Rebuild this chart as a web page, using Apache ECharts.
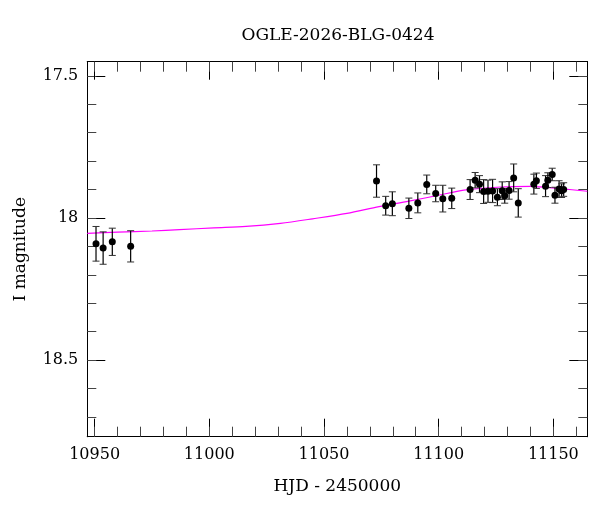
<!DOCTYPE html>
<html>
<head>
<meta charset="utf-8">
<script src="https://cdn.jsdelivr.net/npm/echarts@6/dist/echarts.min.js"></script>
<style>html,body{margin:0;padding:0;background:#fff}#c{width:600px;height:512px}</style>
</head>
<body>
<div id="c"></div>
<script>
const titleText = 'OGLE-2026-BLG-0424';
const xName = 'HJD - 2450000';
const yName = 'I magnitude';

const hjd = [10950.6,10953.7,10957.7,10965.7,11072.9,11076.9,11079.8,11087.0,11090.9,11094.8,11098.7,11101.8,11105.7,11113.7,11115.9,11117.8,11119.6,11121.5,11123.5,11125.6,11127.7,11128.8,11130.7,11132.7,11134.7,11141.5,11142.6,11146.6,11147.6,11149.5,11150.7,11152.5,11153.6,11154.5];
const mag = [18.091,18.106,18.084,18.100,17.870,17.957,17.950,17.966,17.947,17.882,17.914,17.932,17.931,17.900,17.867,17.881,17.907,17.906,17.905,17.927,17.904,17.922,17.903,17.859,17.947,17.881,17.869,17.888,17.867,17.847,17.920,17.898,17.904,17.900];
const err = [0.061,0.057,0.048,0.055,0.057,0.033,0.042,0.036,0.035,0.033,0.029,0.047,0.036,0.035,0.027,0.030,0.042,0.039,0.041,0.030,0.031,0.026,0.031,0.049,0.050,0.035,0.027,0.037,0.026,0.022,0.028,0.029,0.024,0.024];

const modelHjd = [10946.8,10960,10975,10987,11002,11016,11031,11045,11060,11074,11087,11100,11111,11127,11140,11153,11164.8];
const modelMag = [18.054,18.050,18.046,18.041,18.035,18.030,18.019,18.003,17.984,17.960,17.941,17.920,17.902,17.891,17.889,17.897,17.906];

const xMajorTicks = [10950,11000,11050,11100,11150];
const xMinorTicks = [10950,10960,10970,10980,10990,11000,11010,11020,11030,11040,11050,11060,11070,11080,11090,11100,11110,11120,11130,11140,11150,11160];
const yMajorTicks = [17.5,18,18.5];
const yMinorTicks = [17.5,17.6,17.7,17.8,17.9,18.0,18.1,18.2,18.3,18.4,18.5,18.6,18.7];

const xMin = 10946.8, xMax = 11164.8;
const yMin = 17.45, yMax = 18.77;

const FONT = 'DejaVu Serif';

function xAxisDef(pos, major, showLabel, name) {
  return {
    type: 'value', position: pos, min: xMin, max: xMax, offset: 0,
    name: name || '', nameLocation: 'middle', nameGap: 41,
    nameTextStyle: {fontFamily: FONT, fontSize: 17, color: '#000'},
    axisLine: {show: true, onZero: false, lineStyle: {color: '#000', width: 1}},
    axisTick: {show: true, inside: true, length: major ? 18 : 10,
      customValues: major ? xMajorTicks : xMinorTicks,
      lineStyle: {color: major ? '#000' : '#444', width: 1}},
    axisLabel: {show: showLabel, customValues: xMajorTicks, margin: 10,
      fontFamily: FONT, fontSize: 16, color: '#000', formatter: v => String(v)},
    splitLine: {show: false}
  };
}
function yAxisDef(pos, major, showLabel, name) {
  return {
    type: 'value', position: pos, min: yMin, max: yMax, inverse: true, offset: 0,
    name: name || '', nameLocation: 'middle', nameGap: 58,
    nameTextStyle: {fontFamily: FONT, fontSize: 17, color: '#000'},
    axisLine: {show: true, onZero: false, lineStyle: {color: '#000', width: 1}},
    axisTick: {show: true, inside: true, length: major ? 18 : 9,
      customValues: major ? yMajorTicks : yMinorTicks,
      lineStyle: {color: major ? '#000' : '#444', width: 1}},
    axisLabel: {show: showLabel, customValues: yMajorTicks, margin: 9,
      fontFamily: FONT, fontSize: 16, color: '#000',
      formatter: v => String(Math.round(v * 10) / 10)},
    splitLine: {show: false}
  };
}

const points = hjd.map((x, i) => [x, mag[i]]);
const bars = hjd.map((x, i) => [x, mag[i] - err[i], mag[i] + err[i]]);
const model = modelHjd.map((x, i) => [x, modelMag[i]]);

const chart = echarts.init(document.getElementById('c'), null, {renderer: 'canvas'});
chart.setOption({
  animation: false,
  backgroundColor: '#fff',
  title: {text: titleText, left: 333, textAlign: 'center', top: 22,
    textStyle: {fontFamily: FONT, fontSize: 17, fontWeight: 'normal', color: '#000'}},
  grid: {left: 87.3, right: 12.7, top: 61.7, bottom: 75.3, containLabel: false},
  xAxis: [
    xAxisDef('bottom', true, true, xName),
    xAxisDef('bottom', false, false),
    xAxisDef('top', true, false),
    xAxisDef('top', false, false)
  ],
  yAxis: [
    yAxisDef('left', true, true, yName),
    yAxisDef('left', false, false),
    yAxisDef('right', true, false),
    yAxisDef('right', false, false)
  ],
  series: [
    {
      type: 'line', data: model, xAxisIndex: 0, yAxisIndex: 0,
      showSymbol: false, smooth: 0.3, clip: true,
      lineStyle: {color: '#ff00ff', width: 1.2}, z: 2
    },
    {
      type: 'custom', xAxisIndex: 0, yAxisIndex: 0, data: bars, z: 3,
      renderItem: function (params, api) {
        const x = api.value(0);
        const p1 = api.coord([x, api.value(1)]);
        const p2 = api.coord([x, api.value(2)]);
        const hw = 3.5;
        const st = {stroke: '#000', lineWidth: 1.2};
        const cst = {stroke: '#333', lineWidth: 1};
        return {type: 'group', children: [
          {type: 'line', shape: {x1: p1[0], y1: p1[1], x2: p2[0], y2: p2[1]}, style: st},
          {type: 'line', shape: {x1: p1[0] - hw, y1: p1[1], x2: p1[0] + hw, y2: p1[1]}, style: cst},
          {type: 'line', shape: {x1: p2[0] - hw, y1: p2[1], x2: p2[0] + hw, y2: p2[1]}, style: cst}
        ]};
      }
    },
    {
      type: 'scatter', data: points, xAxisIndex: 0, yAxisIndex: 0,
      symbol: 'circle', symbolSize: 7, itemStyle: {color: '#000', opacity: 1}, z: 4
    }
  ]
});
</script>
</body>
</html>
